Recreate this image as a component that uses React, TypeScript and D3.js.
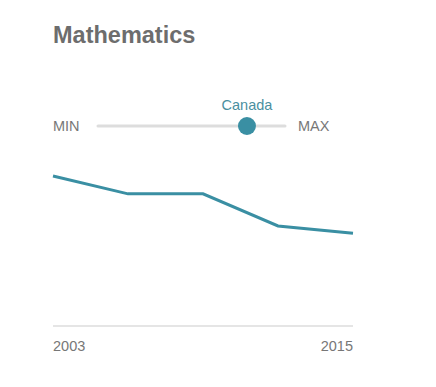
import * as d3 from "d3";

const years = [2003, 2006, 2009, 2012, 2015];
const scores = [532, 527, 527, 518, 516];
const tickYears = [2003, 2015];
const sliderMin = 328;
const sliderMax = 564;
const countryName = "Canada";
const countryScore = 516;

const W = 436;
const H = 387;
const teal = "#3a8fa3";
const grey = "#777";
const font = "'Liberation Sans', Arial, sans-serif";

export default function App() {
    const x = d3.scaleLinear().domain([2003, 2015]).range([53, 353]);
    // the bottom of the plot sits at y=326
    const y = d3.scaleLinear().domain([490, 532]).range([326, 176]);
    const slider = d3.scaleLinear().domain([sliderMin, sliderMax]).range([98, 285]);

    const line = d3.line<number>()
        .x((_, i) => x(years[i]))
        .y(d => y(d));

    const cx = slider(countryScore);

    return (
        <svg width={W} height={H} style={{ position: "absolute", left: 0, top: 0 }} fontFamily={font}>
            <rect width={W} height={H} fill="#fff" />
            <text x={53} y={43} fontSize={23.5} fontWeight="bold" fill="#6d6d6d">Mathematics</text>

            {/* slider */}
            <text x={53} y={131} fontSize={14.5} fill={grey}>MIN</text>
            <line x1={slider.range()[0]} x2={slider.range()[1]} y1={126} y2={126}
                stroke="#ddd" strokeWidth={3} strokeLinecap="round" />
            <text x={cx} y={110} fontSize={14.5} fill="#4a8fa0" textAnchor="middle">{countryName}</text>
            <circle cx={cx} cy={126} r={9} fill={teal} />
            <text x={298} y={131} fontSize={14.5} fill={grey}>MAX</text>

            {/* chart */}
            <path d={line(scores) ?? ""} fill="none" stroke={teal} strokeWidth={3} />
            <line x1={x(2003)} x2={x(2015)} y1={326} y2={326} stroke="#ddd" strokeWidth={1.5} />
            {tickYears.map((t, i) => (
                <text key={t} x={x(t)} y={351} fontSize={14.5} fill={grey}
                    textAnchor={i === 0 ? "start" : "end"}>{t}</text>
            ))}
        </svg>
    );
}
